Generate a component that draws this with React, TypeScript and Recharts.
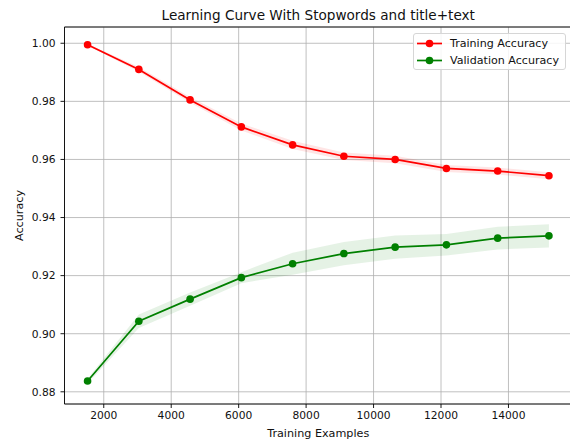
import React from 'react';
import {
  ComposedChart,
  Line,
  Area,
  XAxis,
  YAxis,
  CartesianGrid,
  Legend,
  Label,
} from 'recharts';

const trainSizes = [1520, 3040, 4560, 6080, 7600, 9120, 10640, 12160, 13680, 15200];
const trainMean = [0.9995, 0.991, 0.9805, 0.9712, 0.965, 0.9611, 0.96, 0.9569, 0.956, 0.9544];
const trainStd = [0.0003, 0.0008, 0.001, 0.0012, 0.0014, 0.0013, 0.0013, 0.0012, 0.0012, 0.0012];
const valMean = [0.8837, 0.9043, 0.9119, 0.9193, 0.9241, 0.9276, 0.9298, 0.9306, 0.9329, 0.9337];
const valStd = [0.0008, 0.0023, 0.0023, 0.0019, 0.0038, 0.004, 0.004, 0.0037, 0.0039, 0.004];
const xTicks = [2000, 4000, 6000, 8000, 10000, 12000, 14000];
const yTicks = [0.88, 0.9, 0.92, 0.94, 0.96, 0.98, 1.0];
const xDomain = [836, 15884];
const yDomain = [0.8758, 1.0056];
const seriesNames = ['Training Accuracy', 'Validation Accuracy'];
const seriesColors = ['#ff0000', '#008000'];
const titleText = 'Learning Curve With Stopwords and title+text';
const xLabelText = 'Training Examples';
const yLabelText = 'Accuracy';

const data = trainSizes.map((s, i) => ({
  size: s,
  train: trainMean[i],
  trainBand: [trainMean[i] - trainStd[i], trainMean[i] + trainStd[i]],
  val: valMean[i],
  valBand: [valMean[i] - valStd[i], valMean[i] + valStd[i]],
}));

const FONT = 'DejaVu Sans, sans-serif';
const TXT = '#111';

const LegendBox = () => (
  <div
    style={{
      border: '1px solid #d6d6d6',
      borderRadius: 3,
      background: 'rgba(255,255,255,0.85)',
      width: 153,
      height: 37,
      boxSizing: 'border-box',
      fontFamily: FONT,
      fontSize: 11.1,
      color: TXT,
      paddingTop: 1,
    }}
  >
    {seriesNames.map((n, i) => (
      <div key={n} style={{ display: 'flex', alignItems: 'center', height: 17, lineHeight: '17px' }}>
        <svg width={36} height={17} style={{ flex: 'none' }}>
          <line x1={3} x2={28} y1={8.5} y2={8.5} stroke={seriesColors[i]} strokeWidth={1.7} />
          <circle cx={15.5} cy={8.5} r={3.8} fill={seriesColors[i]} />
        </svg>
        <span style={{ whiteSpace: 'nowrap' }}>{n}</span>
      </div>
    ))}
  </div>
);

export default function App() {
  return (
    <div style={{ position: 'absolute', left: 0, top: 0, width: 570, height: 443, overflow: 'hidden', background: '#fff' }}>
      <ComposedChart
        width={576}
        height={443}
        data={data}
        margin={{ top: 26, right: 4, bottom: 0, left: 0 }}
      >
        <CartesianGrid xAxisId="main" yAxisId="main" stroke="#b0b0b0" strokeWidth={0.8} />
        <XAxis
          xAxisId="main"
          dataKey="size"
          type="number"
          domain={xDomain}
          ticks={xTicks}
          allowDataOverflow
          height={39}
          tickSize={4}
          tickMargin={3}
          axisLine={{ stroke: '#000', strokeWidth: 0.9 }}
          tickLine={{ stroke: '#000', strokeWidth: 0.9 }}
          tick={{ fontFamily: FONT, fontSize: 10.7, fill: TXT }}
        >
          <Label
            content={({ viewBox }: any) => (
              <text
                x={viewBox.x + viewBox.width / 2}
                y={viewBox.y + 33}
                textAnchor="middle"
                fontFamily={FONT}
                fontSize={11.2}
                fill={TXT}
              >
                {xLabelText}
              </text>
            )}
          />
        </XAxis>
        <XAxis
          xAxisId="top"
          orientation="top"
          dataKey="size"
          type="number"
          domain={xDomain}
          allowDataOverflow
          height={1}
          tick={false}
          tickLine={false}
          axisLine={{ stroke: '#000', strokeWidth: 0.9 }}
        >
          <Label
            content={({ viewBox }: any) => (
              <text
                x={viewBox.x + viewBox.width / 2}
                y={19.5}
                textAnchor="middle"
                fontFamily={FONT}
                fontSize={13.6}
                fill={TXT}
              >
                {titleText}
              </text>
            )}
          />
        </XAxis>
        <YAxis
          yAxisId="main"
          type="number"
          domain={yDomain}
          ticks={yTicks}
          allowDataOverflow
          width={64.5}
          tickSize={4}
          tickMargin={5}
          tickFormatter={(v: number) => v.toFixed(2)}
          axisLine={{ stroke: '#000', strokeWidth: 0.9 }}
          tickLine={{ stroke: '#000', strokeWidth: 0.9 }}
          tick={{ fontFamily: FONT, fontSize: 10.7, fill: TXT }}
        >
          <Label
            content={({ viewBox }: any) => {
              const cy = viewBox.y + viewBox.height / 2;
              return (
                <text
                  x={22.5}
                  y={cy}
                  transform={`rotate(-90, 22.5, ${cy})`}
                  textAnchor="middle"
                  fontFamily={FONT}
                  fontSize={11.2}
                  fill={TXT}
                >
                  {yLabelText}
                </text>
              );
            }}
          />
        </YAxis>
        <Area
          xAxisId="main"
          yAxisId="main"
          dataKey="trainBand"
          stroke="none"
          fill={seriesColors[0]}
          fillOpacity={0.1}
          isAnimationActive={false}
          legendType="none"
          activeDot={false}
          dot={false}
        />
        <Area
          xAxisId="main"
          yAxisId="main"
          dataKey="valBand"
          stroke="none"
          fill={seriesColors[1]}
          fillOpacity={0.1}
          isAnimationActive={false}
          legendType="none"
          activeDot={false}
          dot={false}
        />
        <Line
          xAxisId="main"
          yAxisId="main"
          dataKey="train"
          name={seriesNames[0]}
          type="linear"
          stroke={seriesColors[0]}
          strokeWidth={1.7}
          dot={{ r: 3.8, fill: seriesColors[0], stroke: seriesColors[0], strokeWidth: 0 }}
          activeDot={false}
          isAnimationActive={false}
        />
        <Line
          xAxisId="main"
          yAxisId="main"
          dataKey="val"
          name={seriesNames[1]}
          type="linear"
          stroke={seriesColors[1]}
          strokeWidth={1.7}
          dot={{ r: 3.8, fill: seriesColors[1], stroke: seriesColors[1], strokeWidth: 0 }}
          activeDot={false}
          isAnimationActive={false}
        />
        <Legend
          layout="horizontal"
          verticalAlign="middle"
          align="center"
          wrapperStyle={{ position: 'absolute', left: 413, top: 33, width: 153, height: 37 }}
          content={() => <LegendBox />}
        />
      </ComposedChart>
    </div>
  );
}
